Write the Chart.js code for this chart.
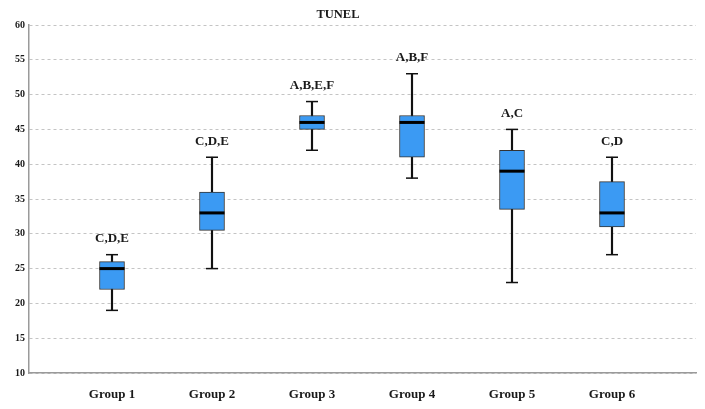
<!DOCTYPE html>
<html>
<head>
<meta charset="utf-8">
<script src="https://cdn.jsdelivr.net/npm/chart.js@4/dist/chart.umd.min.js"></script>
<style>
  html, body { margin: 0; padding: 0; background: #fff; }
  #wrap { width: 705px; height: 409px; }
</style>
</head>
<body>
<div id="wrap"><canvas id="c" width="705" height="409"></canvas></div>
<script>
const chartTitle = 'TUNEL';
const groups = ['Group 1', 'Group 2', 'Group 3', 'Group 4', 'Group 5', 'Group 6'];
const mins    = [19, 25, 42, 38, 23, 27];
const q1s     = [22, 30.5, 45, 41, 33.5, 31];
const medians = [25, 33, 46, 46, 39, 33];
const q3s     = [26, 36, 47, 47, 42, 37.5];
const maxs    = [27, 41, 49, 53, 45, 41];
const letters = ['C,D,E', 'C,D,E', 'A,B,E,F', 'A,B,F', 'A,C', 'C,D'];
const yTicks  = [10, 15, 20, 25, 30, 35, 40, 45, 50, 55, 60];

const serif = '"Liberation Serif", "DejaVu Serif", serif';
const xs = groups.map((_, i) => i + 1);

const labelPlugin = {
  id: 'labels',
  afterDatasetsDraw(chart) {
    const { ctx, scales } = chart;
    ctx.save();
    ctx.fillStyle = '#1a1a1a';
    ctx.textAlign = 'center';
    ctx.textBaseline = 'middle';
    ctx.font = 'bold 13px ' + serif;
    xs.forEach((x, i) => {
      const px = scales.x.getPixelForValue(x);
      const py = scales.y.getPixelForValue(maxs[i]) - 16;
      ctx.fillText(letters[i], px, py);
    });
    ctx.font = 'bold 12.5px ' + serif;
    ctx.fillText(chartTitle, 338, 15);
    ctx.restore();
  }
};

new Chart(document.getElementById('c'), {
  data: {
    datasets: [
      {
        type: 'bar',
        label: 'whisker',
        data: xs.map((x, i) => ({ x, y: [mins[i], maxs[i]] })),
        backgroundColor: '#111',
        borderWidth: 0,
        barThickness: 1.5,
        grouped: false,
        order: 4
      },
      {
        type: 'bar',
        label: 'box',
        data: xs.map((x, i) => ({ x, y: [q1s[i], q3s[i]] })),
        backgroundColor: '#3b9af3',
        borderColor: '#333',
        borderWidth: 1,
        borderSkipped: false,
        barThickness: 25,
        grouped: false,
        order: 3
      },
      {
        type: 'scatter',
        label: 'caps',
        data: xs.flatMap((x, i) => [{ x, y: mins[i] }, { x, y: maxs[i] }]),
        pointStyle: 'line',
        pointRadius: 6,
        pointHoverRadius: 6,
        borderColor: '#111',
        borderWidth: 1.5,
        order: 2
      },
      {
        type: 'scatter',
        label: 'median',
        data: xs.map((x, i) => ({ x, y: medians[i] })),
        pointStyle: 'line',
        pointRadius: 12.5,
        pointHoverRadius: 12.5,
        borderColor: '#000',
        borderWidth: 3,
        order: 1
      }
    ]
  },
  options: {
    responsive: false,
    animation: false,
    events: [],
    layout: { autoPadding: false, padding: { top: 25, right: 9, left: 0, bottom: 0 } },
    plugins: {
      legend: { display: false },
      tooltip: { enabled: false },
      title: { display: false }
    },
    scales: {
      x: {
        type: 'linear',
        min: 0.17,
        max: 6.84,
        offset: false,
        afterBuildTicks(scale) { scale.ticks = xs.map(v => ({ value: v })); },
        afterFit(scale) { scale.height = 36; scale.paddingLeft = 0; scale.paddingRight = 0; },
        grid: { display: false, offset: false },
        border: { display: true, color: '#9a9a9a', width: 1.5 },
        ticks: {
          autoSkip: false,
          maxRotation: 0,
          padding: 6,
          color: '#1a1a1a',
          font: { family: serif, size: 13, weight: 'bold' },
          callback: (v) => groups[v - 1] || ''
        }
      },
      y: {
        type: 'linear',
        min: 10,
        max: 60,
        afterBuildTicks(scale) { scale.ticks = yTicks.map(v => ({ value: v })); },
        afterFit(scale) { scale.width = 29; },
        grid: { color: '#c4c4c4', lineWidth: 1, drawTicks: false },
        border: { display: true, color: '#9a9a9a', width: 1.5, dash: [3, 3] },
        ticks: {
          padding: 4,
          color: '#1a1a1a',
          font: { family: serif, size: 10, weight: 'bold' }
        }
      }
    }
  },
  plugins: [labelPlugin]
});
</script>
</body>
</html>
